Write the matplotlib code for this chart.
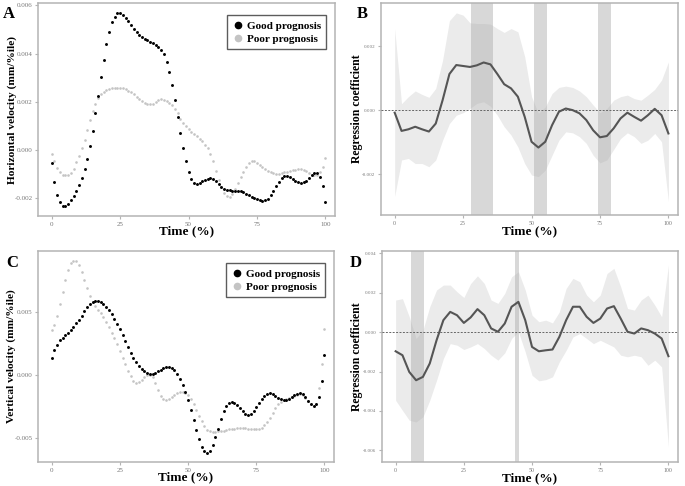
import numpy as np
import matplotlib
matplotlib.use("Agg")
import matplotlib.pyplot as plt
from matplotlib.lines import Line2D

plt.rcParams['font.family'] = ['Liberation Serif', 'DejaVu Serif']

time_pts = list(range(101))

a_good = [-0.00055, -0.00132, -0.00185, -0.00215, -0.00232, -0.00233, -0.00223, -0.00208, -0.0019, -0.0017,
          -0.00146, -0.00114, -0.0008, -0.00036, 0.00017, 0.0008, 0.00152, 0.00226, 0.00302, 0.00372,
          0.0044, 0.0049, 0.00532, 0.0055, 0.00568, 0.0057, 0.00561, 0.00549, 0.00534, 0.00517,
          0.00503, 0.0049, 0.00479, 0.00469, 0.00462, 0.00455, 0.0045, 0.00443, 0.00437, 0.00428,
          0.00417, 0.004, 0.00366, 0.00326, 0.0027, 0.00207, 0.00139, 0.00072, 0.0001, -0.00046,
          -0.00091, -0.0012, -0.00135, -0.00139, -0.00137, -0.00128, -0.00124, -0.00119, -0.00117, -0.00121,
          -0.00128, -0.00139, -0.00152, -0.00159, -0.00164, -0.00167, -0.00168, -0.00168, -0.0017, -0.00171,
          -0.00174, -0.00181, -0.00188, -0.00194, -0.002, -0.00204, -0.00208, -0.00211, -0.00208, -0.00201,
          -0.00188, -0.00168, -0.00149, -0.00131, -0.00117, -0.00109, -0.00108, -0.00112, -0.00119, -0.00126,
          -0.00131, -0.00135, -0.00133, -0.00126, -0.00116, -0.00105, -0.00095, -0.00095, -0.0011, -0.00149,
          -0.00214]
a_poor = [-0.00017, -0.00047, -0.00073, -0.00091, -0.00102, -0.00105, -0.00102, -0.00094, -0.00079, -0.00051,
          -0.00025, 0.00007, 0.00044, 0.00083, 0.00124, 0.00161, 0.00193, 0.00217, 0.00232, 0.00243,
          0.0025, 0.00254, 0.00257, 0.00258, 0.00258, 0.00258, 0.00257, 0.00252, 0.00247, 0.0024,
          0.00232, 0.00222, 0.00212, 0.00204, 0.00197, 0.00192, 0.0019, 0.00193, 0.002, 0.00206,
          0.0021, 0.00208, 0.00204, 0.00196, 0.00186, 0.00172, 0.00152, 0.00131, 0.00113, 0.00099,
          0.00087, 0.00076, 0.00066, 0.00057, 0.00047, 0.00036, 0.00023, 0.00007, -0.00017, -0.00047,
          -0.00086, -0.00124, -0.00154, -0.00177, -0.00189, -0.00193, -0.00183, -0.00163, -0.00138, -0.00113,
          -0.0009, -0.00069, -0.00054, -0.00047, -0.00047, -0.00052, -0.00061, -0.0007, -0.00079, -0.00086,
          -0.00091, -0.00095, -0.00097, -0.00097, -0.00095, -0.00092, -0.0009, -0.00087, -0.00084, -0.00081,
          -0.0008, -0.0008, -0.00083, -0.00088, -0.00095, -0.00101, -0.00103, -0.00102, -0.00091, -0.00069,
          -0.00034]

c_good = [0.00136, 0.002, 0.00242, 0.00277, 0.003, 0.00322, 0.0034, 0.00362, 0.00386, 0.00412,
          0.00441, 0.00473, 0.00508, 0.0054, 0.00564, 0.0058, 0.00588, 0.00588, 0.0058, 0.00564,
          0.00545, 0.00519, 0.00487, 0.0045, 0.0041, 0.00367, 0.00324, 0.00274, 0.00226, 0.00178,
          0.00141, 0.00106, 0.00077, 0.00053, 0.00035, 0.00019, 0.00013, 0.00013, 0.00019, 0.00032,
          0.00045, 0.00056, 0.00064, 0.00064, 0.00056, 0.0004, 0.00013, -0.00027, -0.00077, -0.00133,
          -0.002, -0.00277, -0.00356, -0.00436, -0.00511, -0.00569, -0.00606, -0.0062, -0.00604, -0.00556,
          -0.00495, -0.00426, -0.00351, -0.00285, -0.00242, -0.00218, -0.0021, -0.00218, -0.00237, -0.00261,
          -0.00287, -0.00306, -0.00314, -0.00306, -0.00285, -0.00253, -0.00221, -0.00189, -0.00162, -0.00146,
          -0.00141, -0.00149, -0.00162, -0.00178, -0.00191, -0.002, -0.002, -0.00189, -0.00173, -0.00157,
          -0.00146, -0.00144, -0.00152, -0.00173, -0.00202, -0.00229, -0.00245, -0.00231, -0.0017, -0.00048,
          0.00162]
c_poor = [0.00359, 0.004, 0.00473, 0.00564, 0.00662, 0.00755, 0.00838, 0.00891, 0.00912, 0.00907,
          0.00875, 0.00822, 0.00758, 0.00691, 0.0063, 0.00585, 0.00551, 0.00521, 0.00492, 0.0046,
          0.00426, 0.00386, 0.0034, 0.00293, 0.00245, 0.00191, 0.00138, 0.0009, 0.00037, -0.00003,
          -0.00048, -0.00061, -0.00053, -0.00035, -0.00013, 0.0, 0.00005, -0.00013, -0.00061, -0.0012,
          -0.00168, -0.00189, -0.00194, -0.00189, -0.00173, -0.00154, -0.00141, -0.00133, -0.00133, -0.00141,
          -0.0016, -0.00191, -0.00231, -0.00277, -0.00324, -0.00367, -0.00407, -0.00434, -0.00444, -0.00449,
          -0.00449, -0.00447, -0.00444, -0.00441, -0.00436, -0.00431, -0.00428, -0.00426, -0.00423, -0.0042,
          -0.0042, -0.00423, -0.00426, -0.00428, -0.00431, -0.00431, -0.00428, -0.00418, -0.00399, -0.00372,
          -0.00338, -0.003, -0.00263, -0.00231, -0.0021, -0.00197, -0.00189, -0.00181, -0.00173, -0.00162,
          -0.00154, -0.00152, -0.0016, -0.00178, -0.00205, -0.00231, -0.00247, -0.00231, -0.001, 0.0009,
          0.00364]

coef_t = [0, 2.5, 5, 7.5, 10, 12.5, 15, 17.5, 20, 22.5, 25, 27.5, 30, 32.5, 35, 37.5, 40, 42.5, 45, 47.5,
          50, 52.5, 55, 57.5, 60, 62.5, 65, 67.5, 70, 72.5, 75, 77.5, 80, 82.5, 85, 87.5, 90, 92.5, 95, 97.5, 100]

b_coef = [-0.00008, -0.00065, -0.0006, -0.00052, -0.0006, -0.00067, -0.00042, 0.00031, 0.00113, 0.00141,
          0.00138, 0.00135, 0.0014, 0.00149, 0.00143, 0.00113, 0.00081, 0.00068, 0.00042, -0.00021,
          -0.00099, -0.00117, -0.00099, -0.00047, -0.00005, 0.00005, 0.0, -0.0001, -0.00031, -0.00063,
          -0.00085, -0.00081, -0.00057, -0.00026, -0.00008, -0.00021, -0.00033, -0.00016, 0.00004, -0.00016,
          -0.00073]
b_upper = [0.00255, 0.0002, 0.00042, 0.0006, 0.00049, 0.0004, 0.00068, 0.00156, 0.0028, 0.00304,
           0.00297, 0.00273, 0.00271, 0.00271, 0.00269, 0.00255, 0.00243, 0.00255, 0.00245, 0.00167,
           0.00042, -0.0001, 0.0001, 0.00052, 0.00071, 0.00075, 0.00071, 0.0006, 0.00042, 0.00016,
           -0.00008, 0.00005, 0.00031, 0.00042, 0.00047, 0.00036, 0.00031, 0.00047, 0.00065, 0.00094,
           0.00151]
b_lower = [-0.0027, -0.00156, -0.00151, -0.00167, -0.00167, -0.00177, -0.00156, -0.00094, -0.00042, -0.00016,
           -0.00008, 0.00005, 0.00021, 0.00026, 0.00012, -0.00016, -0.00052, -0.00078, -0.00115, -0.00167,
           -0.00203, -0.00208, -0.00188, -0.00141, -0.00094, -0.00068, -0.00071, -0.00083, -0.00104, -0.00141,
           -0.00165, -0.00156, -0.00123, -0.00089, -0.00071, -0.00083, -0.00104, -0.00094, -0.00073, -0.00099,
           -0.00286]
b_sig_start = [27.8, 50.8, 74.1]
b_sig_end = [35.8, 55.6, 79.2]

d_coef = [-0.00097, -0.00117, -0.00202, -0.00244, -0.00227, -0.00159, -0.00041, 0.00061, 0.00103, 0.00086,
          0.00047, 0.00075, 0.00117, 0.00086, 0.00019, 0.00002, 0.00044, 0.00129, 0.00154, 0.00061,
          -0.00075, -0.00097, -0.00092, -0.00088, -0.00024, 0.00061, 0.00129, 0.00129, 0.00078, 0.00047,
          0.00069, 0.0012, 0.00132, 0.00069, 0.00002, -0.00007, 0.00019, 0.0001, -0.00007, -0.00032,
          -0.00122]
d_upper = [0.00163, 0.0017, 0.00078, -0.00032, 0.0001, 0.00129, 0.00214, 0.00239, 0.00239, 0.00205,
           0.00176, 0.00247, 0.00286, 0.00247, 0.00163, 0.00146, 0.00197, 0.00281, 0.00307, 0.00214,
           0.00086, 0.00053, 0.00061, 0.00047, 0.00103, 0.00222, 0.00273, 0.00256, 0.00188, 0.00154,
           0.00188, 0.00298, 0.00324, 0.0023, 0.0012, 0.00112, 0.00163, 0.00188, 0.00137, 0.00078,
           0.00341]
d_lower = [-0.00346, -0.00397, -0.00447, -0.00456, -0.0043, -0.00346, -0.00244, -0.00134, -0.00058, -0.00066,
           -0.00088, -0.00075, -0.00058, -0.00083, -0.00117, -0.00142, -0.00105, -0.00032, 0.00002, -0.001,
           -0.00219, -0.00247, -0.00241, -0.00227, -0.00151, -0.00092, -0.00024, -0.00007, -0.00032, -0.00058,
           -0.00041, -0.00058, -0.00075, -0.00117, -0.00125, -0.00117, -0.00125, -0.00168, -0.00142, -0.00176,
           -0.00583]
d_sig_start = [5.7, 43.8]
d_sig_end = [10.5, 45.1]

x_ticks = [0, 25, 50, 75, 100]
x_ticklabels = ["0", "25", "50", "75", "100"]

FRAME = "#b4b4b4"
TICKC = "#777777"
GOODC = "#000000"
POORC = "#c4c4c4"
W, H = 685.0, 486.0

fig = plt.figure(figsize=(6.85, 4.86), dpi=100)

def px(l, t, r, b):
    return [l / W, 1 - b / H, (r - l) / W, (b - t) / H]

boxes = {
    'A': (38, 3, 335, 216),
    'B': (381, 3, 678, 215),
    'C': (38, 251, 334, 462),
    'D': (382, 251, 678, 462),
}
axA = fig.add_axes(px(*boxes['A']))
axB = fig.add_axes(px(*boxes['B']))
axC = fig.add_axes(px(*boxes['C']))
axD = fig.add_axes(px(*boxes['D']))

def style(ax, key, yticks, ylabels, ylabel, ylim, ysize, xsize, ylab_x, ylab_fs, xlab_off):
    l, t, r, b = boxes[key]
    for s in ax.spines.values():
        s.set_color(FRAME)
        s.set_linewidth(1.1)
    ax.set_xlim(-5, 103.5)
    ax.set_ylim(*ylim)
    ax.set_xticks(x_ticks)
    ax.set_xticklabels(x_ticklabels)
    ax.set_yticks(yticks)
    ax.set_yticklabels(ylabels)
    ax.tick_params(axis='both', colors=FRAME, labelcolor=TICKC,
                   length=2.5, width=0.8, pad=1.5)
    ax.tick_params(axis='y', labelsize=ysize)
    ax.tick_params(axis='x', labelsize=xsize)
    ax.set_xlabel("Time (%)", fontsize=9.5, fontweight='bold')
    ax.xaxis.set_label_coords(0.5, -xlab_off / (b - t))
    ax.set_ylabel(ylabel, fontsize=ylab_fs, fontweight='bold')
    ax.yaxis.label.set_verticalalignment('center')
    ax.yaxis.set_label_coords((ylab_x - l) / (r - l), 0.5)

def scatter_panel(ax, good, poor):
    ax.scatter(time_pts, poor, s=3.5, color=POORC, linewidths=0, zorder=2)
    ax.scatter(time_pts, good, s=4.5, color=GOODC, linewidths=0, zorder=3)
    handles = [Line2D([], [], marker='o', linestyle='', color=GOODC, markersize=4.5),
               Line2D([], [], marker='o', linestyle='', color=POORC, markersize=4.5)]
    leg = ax.legend(handles, ["Good prognosis", "Poor prognosis"], loc='upper right',
                    bbox_to_anchor=(0.982, 0.957),
                    prop={'weight': 'bold', 'size': 8}, frameon=True, fancybox=False,
                    handletextpad=0.3, borderpad=0.5, labelspacing=0.3, handlelength=1.0,
                    borderaxespad=0.3)
    leg.get_frame().set_edgecolor("#333333")
    leg.get_frame().set_linewidth(1.0)

def coef_panel(ax, coef, upper, lower, s0, s1):
    ax.fill_between(coef_t, lower, upper, color="#ebebeb", linewidth=0, zorder=1)
    for a, b in zip(s0, s1):
        ax.axvspan(a, b, color="#aaaaaa", alpha=0.45, linewidth=0, zorder=2)
    ax.axhline(0, color="#666666", linestyle=(0, (2, 1.5)), linewidth=0.7, zorder=3)
    ax.plot(coef_t, coef, color="#555555", linewidth=1.5, zorder=4)

scatter_panel(axA, a_good, a_poor)
style(axA, 'A', [-0.002, 0.0, 0.002, 0.004, 0.006], ["-0.002", "0.000", "0.002", "0.004", "0.006"],
      "Horizontal velocity (mm/%ile)", (-0.00273, 0.0061), 5, 5, 12, 8.2, 9.5)

coef_panel(axB, b_coef, b_upper, b_lower, b_sig_start, b_sig_end)
style(axB, 'B', [-0.002, 0.0, 0.002], ["-0.002", "0.000", "0.002"],
      "Regression coefficient", (-0.00328, 0.00335), 3.6, 4.2, 357, 8.5, 10.5)

scatter_panel(axC, c_good, c_poor)
style(axC, 'C', [-0.005, 0.0, 0.005], ["-0.005", "0.000", "0.005"],
      "Vertical velocity (mm/%ile)", (-0.00691, 0.00989), 5, 5, 11, 8.2, 9.5)

coef_panel(axD, d_coef, d_upper, d_lower, d_sig_start, d_sig_end)
style(axD, 'D', [-0.006, -0.004, -0.002, 0.0, 0.002, 0.004],
      ["-0.006", "-0.004", "-0.002", "0.000", "0.002", "0.004"],
      "Regression coefficient", (-0.00659, 0.00412), 3.6, 4.2, 357, 8.5, 10.5)

for lab, xp, yp in [("A", 3, 18.5), ("B", 357, 18.5), ("C", 6, 267), ("D", 350, 267)]:
    fig.text(xp / W, 1 - yp / H, lab, fontsize=12, fontweight='bold', ha='left', va='baseline')

fig.savefig("out.png", dpi=100)
